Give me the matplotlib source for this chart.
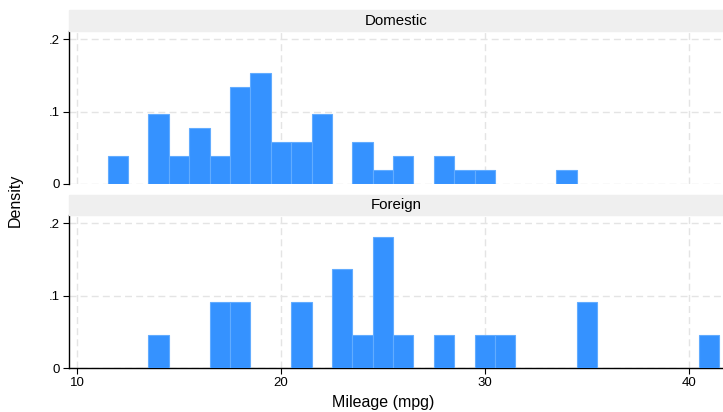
import matplotlib
matplotlib.use("Agg")
import matplotlib.pyplot as plt
from matplotlib.patches import Rectangle

plt.rcParams['font.family'] = ['Liberation Sans', 'DejaVu Sans']

groups = ["Domestic", "Foreign"]
dom_mpg = [12, 14, 15, 16, 17, 18, 19, 20, 21, 22, 24, 25, 26, 28, 29, 30, 34]
dom_density = [0.0385, 0.0962, 0.0385, 0.0769, 0.0385, 0.1346, 0.1538, 0.0577,
               0.0577, 0.0962, 0.0577, 0.0192, 0.0385, 0.0385, 0.0192, 0.0192, 0.0192]
for_mpg = [14, 17, 18, 21, 23, 24, 25, 26, 28, 30, 31, 35, 41]
for_density = [0.0455, 0.0909, 0.0909, 0.0909, 0.1364, 0.0455, 0.1818, 0.0455,
               0.0455, 0.0455, 0.0455, 0.0909, 0.0455]
xticks = [10, 20, 30, 40]
yticks = [0, 0.1, 0.2]
yticklabels = ["0", ".1", ".2"]

W, H = 723, 412
fig = plt.figure(figsize=(W / 100, H / 100), dpi=100)

face = '#3592ff'
edge = '#62acff'
gridc = '#e4e4e4'
stripc = '#efefef'

left = 68.5 / W
right = 1.0
panels = [(31, 184, 10.5), (215, 368.3, 195)]
data = [(dom_mpg, dom_density), (for_mpg, for_density)]

for i, ((top, bot, stop), (xs, ys), name) in enumerate(zip(panels, data, groups)):
    ax = fig.add_axes([left, 1 - bot / H, right - left, (bot - top) / H])
    ax.bar(xs, ys, width=1.0, color=face, edgecolor=edge, linewidth=0.8, zorder=3)
    ax.set_xlim(9.583, 41.68)
    ax.set_ylim(0, 0.2115)
    ax.set_yticks(yticks)
    ax.set_yticklabels(yticklabels, fontsize=9.5)
    ax.set_xticks(xticks)
    for x in xticks:
        ax.axvline(x, color=gridc, lw=1.0, ls=(0, (5, 3)), zorder=1)
    for y in yticks:
        ax.axhline(y, color=gridc, lw=1.0, ls=(0, (5, 3)), zorder=1)
    ax.spines['top'].set_visible(False)
    ax.spines['right'].set_visible(False)
    ax.spines['left'].set_linewidth(1.0)
    ax.tick_params(axis='y', length=4, width=0.8, pad=2)
    if i == 0:
        ax.spines['bottom'].set_visible(False)
        ax.tick_params(axis='x', length=0, labelbottom=False)
    else:
        ax.spines['bottom'].set_linewidth(1.0)
        ax.tick_params(axis='x', length=4, width=0.8, pad=2, labelsize=9.5)
    ax.set_facecolor('white')
    # strip header
    fig.patches.append(Rectangle((left, 1 - top / H), right - left, (top - stop) / H,
                                 transform=fig.transFigure, color=stripc, zorder=0))
    fig.text((68.5 + W) / 2 / W, 1 - (top + stop) / 2 / H, name, ha='center', va='center',
             fontsize=10.8)

fig.text(15 / W, 1 - 200 / H, "Density", rotation=90, ha='center', va='center', fontsize=11.5)
fig.text(383.5 / W, 1 - 403 / H, "Mileage (mpg)", ha='center', va='center', fontsize=11.5)

fig.savefig("out.png", dpi=100)
